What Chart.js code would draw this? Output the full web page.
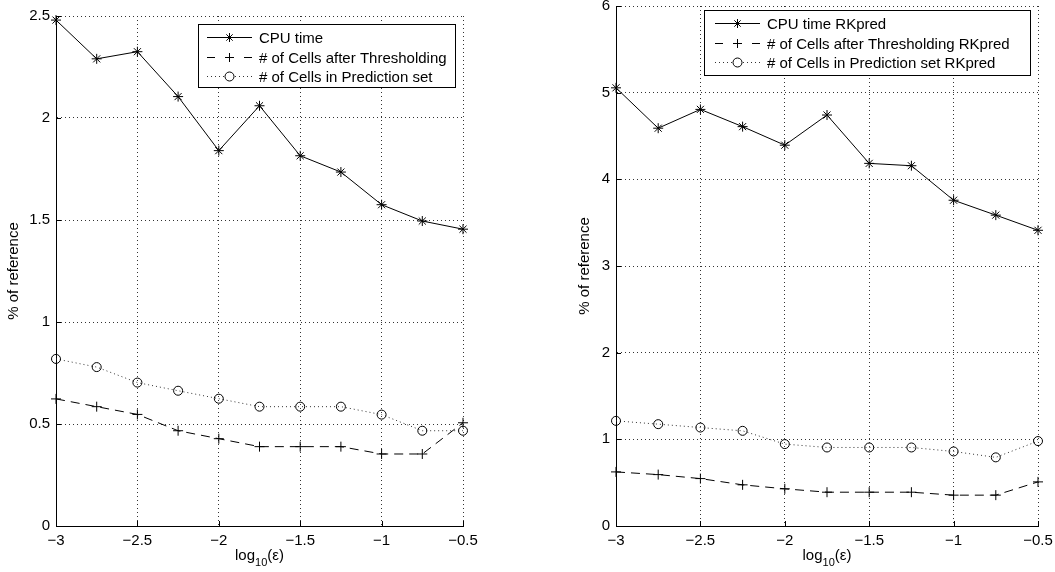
<!DOCTYPE html>
<html><head><meta charset="utf-8">
<script src="https://cdn.jsdelivr.net/npm/chart.js@4.4.1/dist/chart.umd.min.js"></script>
<style>
html,body{margin:0;padding:0;background:#fff;width:1055px;height:572px;overflow:hidden}
#c1{position:absolute;left:0;top:0}
#c2{position:absolute;left:530px;top:0}
</style>
</head><body>
<canvas id="c1" width="530" height="572"></canvas>
<canvas id="c2" width="525" height="572"></canvas>
<script>
// ---- data ----
const xValues = [-3, -2.75, -2.5, -2.25, -2, -1.75, -1.5, -1.25, -1, -0.75, -0.5];
const cpuTime = [2.48, 2.29, 2.325, 2.105, 1.84, 2.06, 1.815, 1.735, 1.575, 1.495, 1.455];
const cellsThresh = [0.623, 0.585, 0.547, 0.467, 0.428, 0.389, 0.389, 0.389, 0.353, 0.353, 0.506];
const cellsPred = [0.819, 0.779, 0.703, 0.663, 0.624, 0.585, 0.585, 0.585, 0.546, 0.467, 0.467];
const cpuTimeRK = [5.056, 4.59, 4.807, 4.608, 4.394, 4.742, 4.184, 4.157, 3.759, 3.587, 3.412];
const cellsThreshRK = [0.624, 0.593, 0.547, 0.475, 0.429, 0.39, 0.39, 0.39, 0.356, 0.356, 0.509];
const cellsPredRK = [1.213, 1.175, 1.136, 1.098, 0.945, 0.906, 0.906, 0.906, 0.86, 0.792, 0.98];
const xTicks = [-3, -2.5, -2, -1.5, -1, -0.5];
const yTicksLeft = [0, 0.5, 1, 1.5, 2, 2.5];
const yTicksRight = [0, 1, 2, 3, 4, 5, 6];
const legendLeft = ['CPU time', '# of Cells after Thresholding', '# of Cells in Prediction set'];
const legendRight = ['CPU time RKpred', '# of Cells after Thresholding RKpred', '# of Cells in Prediction set RKpred'];
const yTitle = '% of reference';
const xTitleMain = 'log';
const xTitleSub = '10';
const xTitleEnd = '(\u03B5)';

// ---- styles ----
const FONT = '"Liberation Sans", Arial, Helvetica, sans-serif';
const seriesStyles = [
  {dash: [], marker: 'star', radius: 5, legR: 4.5, color: '#000'},
  {dash: [9, 6], marker: 'cross', radius: 5, legR: 4.5, color: '#000'},
  {dash: [1, 3], marker: 'circle', radius: 4.5, legR: 4.5, color: '#333'}
];

function fmt(v) {
  let s = String(Math.round(v * 100) / 100);
  return s.replace('-', '\u2212');
}

function drawMarker(ctx, type, x, y, r) {
  ctx.save();
  ctx.setLineDash([]);
  ctx.strokeStyle = '#000';
  ctx.lineWidth = 1;
  ctx.beginPath();
  if (type === 'circle') {
    ctx.arc(x, y, r, 0, Math.PI * 2);
  } else {
    ctx.moveTo(x - r, y); ctx.lineTo(x + r, y);
    ctx.moveTo(x, y - r); ctx.lineTo(x, y + r);
    if (type === 'star') {
      const d = r * Math.SQRT1_2;
      ctx.moveTo(x - d, y - d); ctx.lineTo(x + d, y + d);
      ctx.moveTo(x - d, y + d); ctx.lineTo(x + d, y - d);
    }
  }
  ctx.stroke();
  ctx.restore();
}

const decor = {
  id: 'decor',
  afterDraw(chart, args, o) {
    const {ctx, chartArea: a, scales: {x, y}} = chart;
    ctx.save();
    // inward tick marks
    ctx.strokeStyle = '#000'; ctx.lineWidth = 1; ctx.setLineDash([]);
    ctx.beginPath();
    x.ticks.forEach(t => {
      const px = Math.round(x.getPixelForValue(t.value)) + 0.5;
      ctx.moveTo(px, a.bottom); ctx.lineTo(px, a.bottom - 5);
    });
    y.ticks.forEach(t => {
      const py = Math.round(y.getPixelForValue(t.value)) + 0.5;
      ctx.moveTo(a.left, py); ctx.lineTo(a.left + 5, py);
    });
    ctx.stroke();
    ctx.fillStyle = '#000';
    // y title
    ctx.save();
    ctx.font = '15px ' + FONT;
    ctx.translate(o.yTitleX, (a.top + a.bottom) / 2);
    ctx.rotate(-Math.PI / 2);
    ctx.textAlign = 'center'; ctx.textBaseline = 'middle';
    ctx.fillText(yTitle, 0, 0);
    ctx.restore();
    // x title with subscript
    ctx.textBaseline = 'alphabetic'; ctx.textAlign = 'left';
    ctx.font = '15px ' + FONT;
    const w1 = ctx.measureText(xTitleMain).width;
    const w3 = ctx.measureText(xTitleEnd).width;
    ctx.font = '11px ' + FONT;
    const w2 = ctx.measureText(xTitleSub).width;
    let sx = (a.left + a.right) / 2 - (w1 + w2 + w3) / 2;
    ctx.font = '15px ' + FONT;
    ctx.fillText(xTitleMain, sx, 560);
    ctx.font = '11px ' + FONT;
    ctx.fillText(xTitleSub, sx + w1, 566);
    ctx.font = '15px ' + FONT;
    ctx.fillText(xTitleEnd, sx + w1 + w2, 560);
    // legend
    const L = o.legend;
    ctx.fillStyle = '#fff';
    ctx.fillRect(L.x0, L.y0, L.x1 - L.x0, L.y1 - L.y0);
    ctx.strokeStyle = '#000'; ctx.lineWidth = 1;
    ctx.strokeRect(L.x0 + 0.5, L.y0 + 0.5, L.x1 - L.x0, L.y1 - L.y0);
    o.labels.forEach((txt, i) => {
      const st = seriesStyles[i];
      const ry = Math.round(L.rows[i]) + 0.5;
      ctx.save();
      ctx.strokeStyle = st.color; ctx.lineWidth = 1;
      ctx.beginPath();
      if (i === 1) {
        ctx.moveTo(L.lx0, ry); ctx.lineTo(L.lx0 + 8, ry);
        ctx.moveTo(L.lx1 - 8, ry); ctx.lineTo(L.lx1, ry);
      } else {
        ctx.setLineDash(st.dash);
        ctx.moveTo(L.lx0, ry); ctx.lineTo(L.lx1, ry);
      }
      ctx.stroke();
      ctx.restore();
      if (i === 2) {
        ctx.fillStyle = '#fff';
        ctx.beginPath(); ctx.arc(L.mx, ry, st.legR, 0, Math.PI * 2); ctx.fill();
      }
      drawMarker(ctx, st.marker, L.mx, ry, st.legR);
      ctx.fillStyle = '#000';
      ctx.font = '15px ' + FONT;
      ctx.textBaseline = 'middle';
      ctx.fillText(txt, L.tx, ry + 1);
    });
    ctx.restore();
  }
};

function makeChart(id, series, labels, yMax, yTicks, g) {
  const datasets = series.map((vals, i) => {
    const st = seriesStyles[i];
    return {
      label: labels[i],
      data: xValues.map((xv, k) => ({x: xv, y: vals[k]})),
      borderColor: st.color,
      borderWidth: 1,
      borderDash: st.dash,
      pointStyle: st.marker === 'circle' ? 'circle' : (st.marker === 'star' ? 'star' : 'cross'),
      pointRadius: st.radius,
      pointBorderColor: '#000',
      pointBackgroundColor: 'rgba(0,0,0,0)',
      pointBorderWidth: 1,
      fill: false,
      tension: 0,
      clip: false
    };
  });
  return new Chart(document.getElementById(id), {
    type: 'line',
    data: {datasets},
    options: {
      responsive: false,
      animation: false,
      devicePixelRatio: 1,
      layout: {padding: {top: g.padTop, right: g.padRight, left: 0, bottom: 0}},
      plugins: {legend: {display: false}, tooltip: {enabled: false}, decor: g},
      scales: {
        x: {
          type: 'linear', min: -3, max: -0.5,
          afterBuildTicks: s => { s.ticks = xTicks.map(v => ({value: v})); },
          afterFit: s => { s.height = g.xAxisH; s.paddingLeft = 0; s.paddingRight = 0; },
          ticks: {callback: v => fmt(v), color: '#000', font: {size: 15, family: FONT}, padding: 6, maxRotation: 0, autoSkip: false},
          grid: {color: '#333', lineWidth: 1, drawTicks: false},
          border: {display: true, color: '#000', width: 1, dash: [1, 3]}
        },
        y: {
          type: 'linear', min: 0, max: yMax,
          afterBuildTicks: s => { s.ticks = yTicks.map(v => ({value: v})); },
          afterFit: s => { s.width = g.yAxisW; s.paddingTop = 0; s.paddingBottom = 0; },
          ticks: {callback: v => fmt(v), color: '#000', font: {size: 15, family: FONT}, padding: 6, autoSkip: false},
          grid: {color: '#333', lineWidth: 1, drawTicks: false},
          border: {display: true, color: '#000', width: 1, dash: [1, 3]}
        }
      }
    },
    plugins: [decor]
  });
}

makeChart('c1', [cpuTime, cellsThresh, cellsPred], legendLeft, 2.5, yTicksLeft, {
  padTop: 16, padRight: 67, yAxisW: 56, xAxisH: 46, yTitleX: 14,
  labels: legendLeft,
  legend: {x0: 198, y0: 24, x1: 455, y1: 87, rows: [37, 57, 76], lx0: 207, lx1: 252, mx: 229.5, tx: 259}
});
makeChart('c2', [cpuTimeRK, cellsThreshRK, cellsPredRK], legendRight, 6, yTicksRight, {
  padTop: 3, padRight: 17, yAxisW: 86, xAxisH: 46, yTitleX: 55,
  labels: legendRight,
  legend: {x0: 174, y0: 10, x1: 500, y1: 75, rows: [23, 43, 62], lx0: 185, lx1: 230, mx: 207.5, tx: 237}
});
</script>
</body></html>
